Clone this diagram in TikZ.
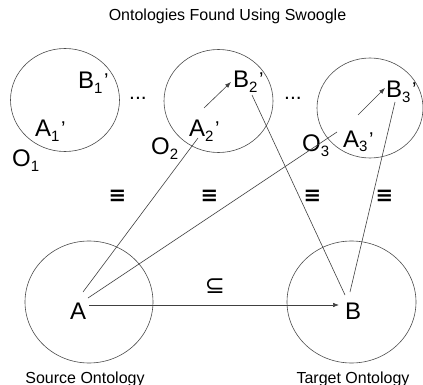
\documentclass[tikz,border=0pt]{standalone}
\usepackage{fontspec}
\setmainfont{Liberation Sans}
\newfontfamily\symfont{DejaVu Sans}
\usetikzlibrary{shapes.geometric,arrows.meta}
\newcommand{\sublab}[2]{#1\raisebox{-5pt}{\fontsize{15}{15}\selectfont #2}}
\newcommand{\primelab}[2]{#1\raisebox{-5pt}{\fontsize{15}{15}\selectfont #2}\hspace{1.5pt}\raisebox{1pt}{\fontsize{20}{20}\selectfont ’}}
\begin{document}
\begin{tikzpicture}[x=1pt,y=-1pt,
  onto/.style={draw=black!70, line width=0.6pt, ellipse, inner sep=0pt},
  lab/.style={inner sep=0pt, anchor=base west, font=\fontsize{24}{28}\selectfont},
  captext/.style={inner sep=0pt, anchor=base, font=\fontsize{16}{19}\selectfont},
  relsym/.style={inner sep=0pt, anchor=center, font=\symfont\bfseries\fontsize{21}{24}\selectfont},
  conn/.style={draw=black!75, line width=0.6pt},
  arr/.style={conn, -{Latex[length=6pt,width=4.5pt]}}]
\useasboundingbox (0,0) rectangle (423,385);
% title and captions
\node[captext] (title) at (227.5,21) {Ontologies Found Using Swoogle};
\node[captext] (src) at (85,383) {Source Ontology};
\node[captext] (tgt) at (353,383) {Target Ontology};
% ellipses
\node[onto, minimum width=109pt, minimum height=103pt] (E1) at (65,100) {};
\node[onto, minimum width=109pt, minimum height=103pt] (E2) at (218.5,101) {};
\node[onto, minimum width=106pt, minimum height=100pt] (E3) at (370,108) {};
\node[onto, minimum width=128pt, minimum height=122pt] (EA) at (89,302) {};
\node[onto, minimum width=129pt, minimum height=122pt] (EB) at (351.5,302) {};
% labels
\node[lab] (B1) at (78,89) {\primelab{B}{1}};
\node[lab] (A1) at (35,137) {\primelab{A}{1}};
\node[lab] (O1) at (12,167) {\sublab{O}{1}};
\node[lab] (B2) at (233,88) {\primelab{B}{2}};
\node[lab] (A2) at (189,137) {\primelab{A}{2}};
\node[lab] (O2) at (151,155) {\sublab{O}{2}};
\node[lab] (B3) at (386,98) {\primelab{B}{3}};
\node[lab] (A3) at (343,147) {\primelab{A}{3}};
\node[lab] (O3) at (302,152) {\sublab{O}{3}};
\node[lab] (A) at (70,319) {A};
\node[lab] (B) at (345,319) {B};
\node[lab, font=\fontsize{21}{24}\selectfont] (d1) at (129,100) {...};
\node[lab, font=\fontsize{21}{24}\selectfont] (d2) at (284,100) {...};
% relation symbols
\node[relsym] (q1) at (117.5,196) {≡};
\node[relsym] (q2) at (209.5,196) {≡};
\node[relsym] (q3) at (312.5,196) {≡};
\node[relsym] (q4) at (384.5,196) {≡};
\node[inner sep=0pt, font=\symfont\fontsize{24}{26}\selectfont] (sub) at (215,286.5) {⊆};
% connector end points
\coordinate (pA2) at (198,138);
\coordinate (pA3) at (337,132);
\coordinate (pB2) at (252,95);
\coordinate (pB3) at (395,102);
\coordinate (pAa) at (83,292);
\coordinate (pAb) at (88,298);
\coordinate (pAc) at (89,305);
\coordinate (pBa) at (345,295);
\coordinate (pBb) at (350,292);
\coordinate (pBc) at (339,305);
\coordinate (s2) at (204,108);
\coordinate (t2) at (231,82);
\coordinate (s3) at (358,115);
\coordinate (t3) at (385,88);
% connectors
\draw[conn] (pAa) -- (pA2);
\draw[conn] (pAb) -- (pA3);
\draw[conn] (pBa) -- (pB2);
\draw[conn] (pBb) -- (pB3);
\draw[arr] (pAc) -- (pBc);
\draw[arr] (s2) -- (t2);
\draw[arr] (s3) -- (t3);
\end{tikzpicture}
\end{document}
